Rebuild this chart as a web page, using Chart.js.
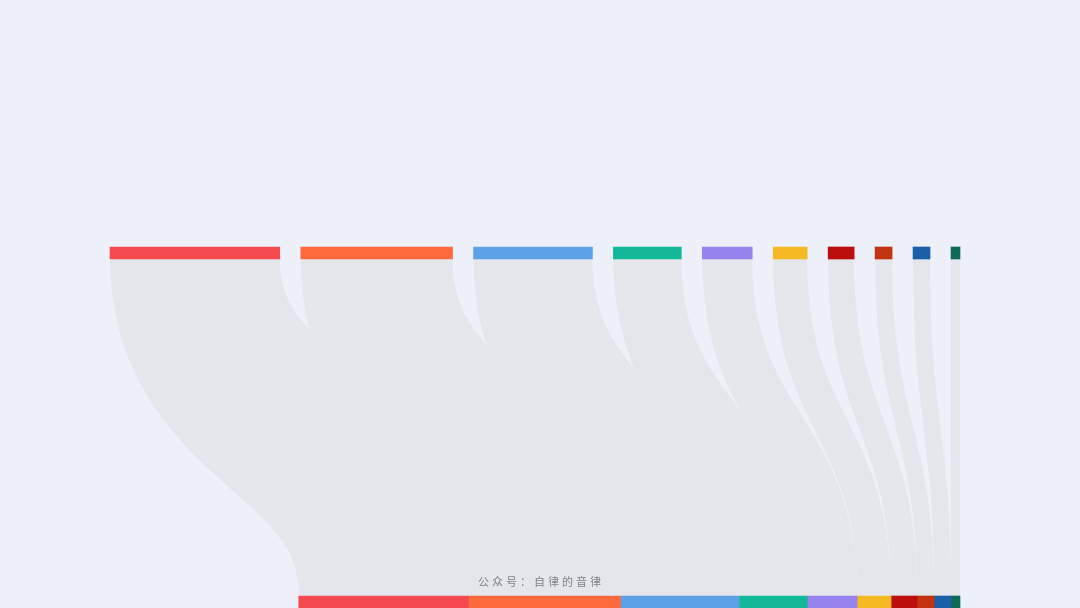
<!DOCTYPE html>
<html>
<head>
<meta charset="utf-8">
<script src="https://cdn.jsdelivr.net/npm/chart.js@4"></script>
<style>
  html, body { margin: 0; padding: 0; background: #edf0f9; }
  #wrap { width: 1080px; height: 608px; position: relative; }
</style>
</head>
<body>
<div id="wrap"><canvas id="flowChart"></canvas></div>
<script>
// node values (same on both rows, the flow goes straight down)
const nodes = ['A', 'B', 'C', 'D', 'E', 'F', 'G', 'H', 'I', 'J'];
const values = [170, 152, 119, 68, 50, 34, 26, 17, 17, 9];
const colors = ['#f5484f', '#ff6a3d', '#5ca1e6', '#12b897', '#9683ee',
                '#f5b923', '#bd0e0e', '#c43310', '#1b5fa8', '#0b6b55'];
const rows = ['top', 'bottom'];
const watermark = '公众号：自律的音律';

const GAP = 21;   // space between top nodes
const total = values.reduce((a, b) => a + b, 0);
const span = total + GAP * (values.length - 1);

// top row spread with gaps, bottom row packed and right-aligned
let topPos = 0, botPos = span - total;
const datasets = values.map((v, i) => {
    const top = [topPos, topPos + v];
    const bot = [botPos, botPos + v];
    topPos += v + GAP;
    botPos += v;
    return {
        label: nodes[i],
        data: [top, bot],
        backgroundColor: colors[i],
        borderWidth: 0,
        barThickness: 12,
        grouped: false,
        clip: false
    };
});

// draw the grey ribbons under the bars
const flowPlugin = {
    id: 'flows',
    beforeDatasetsDraw(chart) {
        const { ctx, scales: { x, y } } = chart;
        const y0 = y.getPixelForValue(0) + 6;
        const y1 = y.getPixelForValue(1) - 6;
        const mid = (y0 + y1) / 2;
        ctx.save();
        ctx.strokeStyle = '#e4e6eb';
        ctx.lineCap = 'butt';
        chart.data.datasets.forEach(ds => {
            const [t, b] = ds.data;
            const x0 = x.getPixelForValue((t[0] + t[1]) / 2);
            const x1 = x.getPixelForValue((b[0] + b[1]) / 2);
            ctx.lineWidth = x.getPixelForValue(t[1]) - x.getPixelForValue(t[0]);
            ctx.beginPath();
            ctx.moveTo(x0, y0);
            ctx.bezierCurveTo(x0, mid, x1, mid, x1, y1);
            ctx.stroke();
        });
        ctx.restore();
    },
    afterDraw(chart) {
        const { ctx } = chart;
        ctx.save();
        ctx.font = '11px "Noto Sans CJK SC", sans-serif';
        ctx.fillStyle = '#808286';
        ctx.letterSpacing = '3px';
        ctx.textAlign = 'center';
        ctx.textBaseline = 'middle';
        ctx.fillText(watermark, 541, 582);
        ctx.restore();
    }
};

new Chart(document.getElementById('flowChart'), {
    type: 'bar',
    data: { labels: rows, datasets: datasets },
    options: {
        indexAxis: 'y',
        responsive: true,
        maintainAspectRatio: false,
        animation: false,
        layout: { padding: { top: 253, bottom: 6, left: 110, right: 120 } },
        scales: {
            x: { type: 'linear', min: 0, max: span, display: false },
            y: { type: 'category', offset: false, display: false }
        },
        plugins: { legend: { display: false }, tooltip: { enabled: false } }
    },
    plugins: [flowPlugin]
});
</script>
</body>
</html>
